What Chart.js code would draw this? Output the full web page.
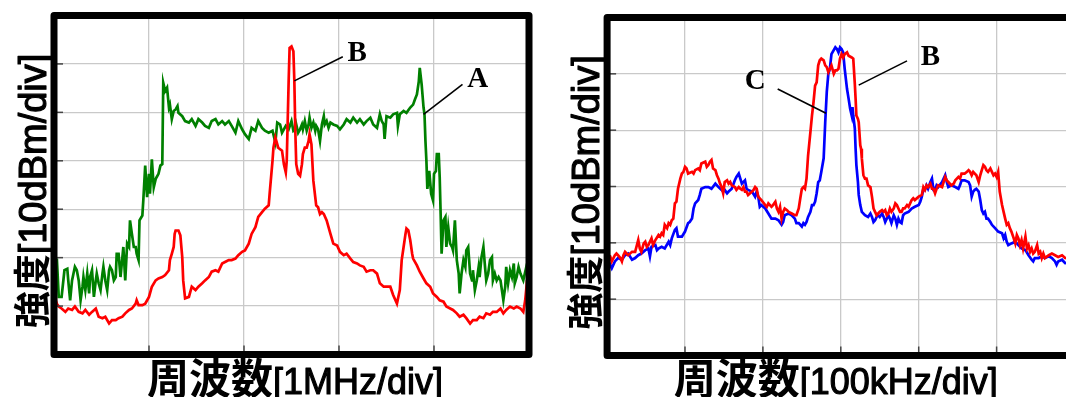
<!DOCTYPE html>
<html>
<head>
<meta charset="utf-8">
<script src="https://cdn.jsdelivr.net/npm/chart.js@4.4.1/dist/chart.umd.min.js"></script>
<style>
  html, body { margin: 0; padding: 0; background: #fff; width: 1066px; height: 397px; overflow: hidden; }
  #wideWrap { position: absolute; left: 0; top: 0; }
  #narrowWrap { position: absolute; left: 540px; top: 0; }
</style>
</head>
<body>
<div id="wideWrap"><canvas id="wide" width="540" height="397"></canvas></div>
<div id="narrowWrap"><canvas id="narrow" width="580" height="397"></canvas></div>
<script>
// left panel: 1 MHz/div, 10 dB/div (x in divisions, y in dB)
const freqA = [
  0.01,0.03,0.05,0.08,0.11,0.14,0.15,0.17,0.19,0.22,
  0.24,0.26,0.28,0.30,0.31,0.33,0.35,0.37,0.38,0.40,
  0.42,0.44,0.45,0.47,0.49,0.51,0.52,0.54,0.56,0.58,
  0.59,0.61,0.63,0.65,0.66,0.68,0.70,0.72,0.73,0.75,
  0.77,0.79,0.80,0.82,0.84,0.86,0.87,0.89,0.90,0.93,
  0.94,0.96,0.98,1.00,1.01,1.03,1.05,1.07,1.08,1.10,
  1.12,1.14,1.15,1.17,1.19,1.21,1.22,1.24,1.26,1.28,
  1.30,1.31,1.35,1.38,1.42,1.45,1.49,1.52,1.56,1.59,
  1.63,1.66,1.70,1.73,1.77,1.80,1.84,1.87,1.91,1.94,
  1.98,2.01,2.05,2.08,2.12,2.15,2.19,2.22,2.26,2.30,
  2.33,2.35,2.38,2.40,2.44,2.47,2.50,2.52,2.54,2.55,
  2.57,2.59,2.61,2.62,2.64,2.66,2.68,2.69,2.71,2.73,
  2.75,2.76,2.78,2.80,2.82,2.84,2.85,2.87,2.89,2.91,
  2.94,2.98,3.01,3.05,3.08,3.12,3.15,3.19,3.22,3.26,
  3.29,3.33,3.36,3.40,3.43,3.45,3.47,3.48,3.50,3.54,
  3.57,3.61,3.62,3.64,3.68,3.71,3.75,3.78,3.80,3.82,
  3.84,3.85,3.87,3.89,3.90,3.91,3.92,3.93,3.95,3.97,
  3.99,4.00,4.02,4.03,4.05,4.06,4.07,4.08,4.10,4.12,
  4.13,4.15,4.17,4.19,4.20,4.22,4.24,4.26,4.27,4.29,
  4.31,4.33,4.34,4.36,4.38,4.40,4.41,4.43,4.45,4.47,
  4.48,4.50,4.52,4.54,4.55,4.57,4.59,4.61,4.62,4.64,
  4.66,4.68,4.70,4.73,4.75,4.76,4.78,4.80,4.82,4.84,
  4.85,4.87,4.89,4.91,4.94,4.98
];
const levelA = [
  -54.0,-50.2,-58.1,-58.1,-52.6,-52.3,-54.7,-58.8,-54.7,-51.9,
  -52.6,-54.7,-58.8,-56.0,-54.0,-56.7,-53.3,-57.4,-54.0,-52.6,
  -58.1,-54.7,-53.3,-55.3,-56.7,-53.3,-51.9,-54.7,-56.7,-52.6,
  -51.9,-52.6,-54.7,-54.0,-49.2,-49.2,-54.0,-49.9,-47.8,-54.7,
  -47.1,-47.8,-42.3,-45.1,-47.8,-47.8,-49.2,-50.5,-42.3,-41.3,
  -38.2,-31.0,-37.5,-32.7,-36.8,-29.7,-35.5,-33.8,-33.4,-32.7,
  -31.0,-30.7,-13.9,-15.6,-14.9,-19.0,-18.4,-21.4,-19.7,-19.4,
  -18.7,-20.1,-20.8,-21.8,-22.1,-21.4,-22.8,-21.4,-22.1,-22.8,
  -23.2,-21.8,-21.4,-22.5,-21.8,-22.5,-21.8,-22.8,-24.2,-21.8,
  -23.5,-24.5,-25.5,-23.2,-23.8,-21.8,-23.2,-23.8,-24.2,-23.8,
  -26.2,-22.1,-22.5,-24.2,-22.8,-23.5,-21.8,-23.8,-23.5,-22.5,
  -24.2,-23.5,-22.5,-23.5,-21.8,-23.8,-22.5,-21.1,-23.2,-22.1,
  -23.8,-22.8,-23.5,-25.9,-22.5,-20.8,-22.5,-21.8,-23.2,-22.1,
  -22.5,-22.8,-23.5,-22.5,-21.4,-22.1,-21.1,-22.1,-21.4,-22.5,
  -21.8,-21.1,-22.5,-23.2,-20.4,-21.8,-22.5,-25.5,-20.8,-21.1,
  -20.4,-20.1,-22.8,-20.4,-19.7,-20.1,-19.0,-18.4,-17.3,-16.3,
  -13.6,-10.8,-14.2,-19.0,-20.4,-25.9,-30.0,-35.8,-32.1,-36.8,
  -38.2,-32.7,-32.1,-28.6,-28.6,-33.4,-41.0,-49.2,-42.3,-41.6,
  -47.8,-43.7,-47.1,-47.8,-48.5,-42.3,-50.5,-53.3,-57.4,-53.3,
  -50.5,-51.9,-48.5,-47.8,-53.3,-54.7,-52.6,-56.7,-54.7,-51.9,
  -54.0,-49.9,-47.8,-52.6,-54.7,-53.3,-50.5,-49.9,-54.7,-53.3,
  -54.7,-54.0,-54.7,-58.8,-56.0,-51.9,-55.3,-52.6,-54.0,-51.2,
  -55.3,-54.0,-51.9,-53.3,-54.7,-51.2
];
const freqB = [
  0.01,0.02,0.03,0.05,0.08,0.12,0.15,0.19,0.22,0.26,
  0.30,0.33,0.37,0.40,0.44,0.47,0.51,0.54,0.58,0.61,
  0.65,0.68,0.72,0.75,0.79,0.82,0.86,0.87,0.89,0.93,
  0.96,1.00,1.03,1.07,1.10,1.14,1.17,1.21,1.22,1.24,
  1.26,1.27,1.28,1.31,1.33,1.35,1.36,1.38,1.42,1.45,
  1.49,1.52,1.56,1.59,1.63,1.66,1.70,1.73,1.77,1.80,
  1.84,1.87,1.91,1.94,1.98,2.01,2.05,2.08,2.12,2.15,
  2.19,2.22,2.26,2.27,2.30,2.31,2.33,2.36,2.40,2.42,
  2.44,2.45,2.47,2.48,2.50,2.52,2.53,2.54,2.55,2.57,
  2.59,2.61,2.62,2.64,2.66,2.68,2.69,2.71,2.73,2.75,
  2.76,2.78,2.80,2.82,2.84,2.87,2.91,2.94,2.98,3.01,
  3.05,3.08,3.12,3.15,3.19,3.22,3.26,3.29,3.33,3.36,
  3.40,3.43,3.47,3.50,3.54,3.57,3.61,3.64,3.66,3.68,
  3.70,3.71,3.73,3.75,3.77,3.78,3.82,3.85,3.89,3.92,
  3.96,3.99,4.03,4.06,4.10,4.13,4.17,4.20,4.24,4.27,
  4.31,4.34,4.38,4.41,4.45,4.48,4.52,4.55,4.59,4.62,
  4.66,4.70,4.73,4.76,4.80,4.84,4.87,4.91,4.94,4.96,
  4.98
];
const levelB = [
  -54.7,-58.8,-59.5,-60.1,-60.5,-61.2,-60.5,-60.8,-60.1,-61.2,
  -61.5,-60.8,-61.8,-61.2,-60.5,-62.2,-62.5,-62.2,-63.6,-62.9,
  -62.9,-62.5,-62.2,-61.5,-60.8,-60.5,-59.5,-58.8,-59.8,-59.8,
  -59.5,-58.1,-56.0,-54.7,-54.3,-54.0,-53.6,-52.6,-50.5,-49.2,
  -47.8,-45.1,-44.4,-44.4,-45.4,-49.9,-54.7,-58.4,-58.1,-56.0,
  -56.7,-56.0,-55.3,-54.7,-54.0,-52.9,-52.6,-52.9,-51.2,-50.9,
  -50.5,-50.5,-50.2,-49.5,-48.8,-48.5,-47.1,-45.1,-43.7,-41.6,
  -40.6,-39.9,-39.2,-36.8,-30.0,-27.3,-25.2,-27.3,-27.9,-30.7,
  -32.4,-30.0,-13.6,-6.7,-6.4,-7.4,-13.6,-23.8,-30.7,-32.7,
  -33.1,-30.7,-28.6,-27.3,-27.3,-25.9,-24.5,-26.6,-34.1,-37.5,
  -39.2,-39.6,-41.0,-40.6,-41.0,-42.3,-45.1,-47.1,-47.5,-48.8,
  -49.5,-49.2,-50.2,-50.9,-51.2,-51.6,-51.9,-52.9,-52.6,-52.6,
  -53.3,-55.3,-56.0,-56.0,-56.0,-57.7,-59.5,-56.7,-50.5,-47.8,
  -45.1,-44.0,-44.4,-46.4,-49.2,-50.2,-51.6,-52.9,-54.3,-55.3,
  -56.0,-57.4,-58.1,-58.8,-59.1,-60.1,-60.5,-60.8,-61.5,-62.2,
  -61.8,-62.5,-63.6,-62.9,-62.9,-62.2,-62.5,-61.5,-61.8,-61.2,
  -61.2,-60.5,-61.5,-60.8,-60.1,-60.5,-60.1,-60.5,-61.2,-58.8,
  -54.7
];

// right panel: 100 kHz/div, 10 dB/div
const freqC = [
  0.02,0.06,0.10,0.14,0.19,0.23,0.27,0.32,0.36,0.40,
  0.44,0.49,0.53,0.55,0.57,0.62,0.64,0.66,0.70,0.74,
  0.79,0.81,0.83,0.87,0.89,0.91,0.96,1.00,1.04,1.06,
  1.09,1.11,1.13,1.17,1.19,1.21,1.26,1.30,1.34,1.39,
  1.43,1.47,1.49,1.51,1.54,1.56,1.60,1.64,1.66,1.69,
  1.71,1.73,1.77,1.79,1.81,1.86,1.90,1.92,1.94,1.96,
  1.98,2.03,2.07,2.11,2.16,2.20,2.24,2.26,2.28,2.33,
  2.37,2.41,2.43,2.46,2.50,2.52,2.54,2.56,2.58,2.61,
  2.63,2.65,2.67,2.69,2.71,2.73,2.75,2.78,2.80,2.82,
  2.84,2.86,2.88,2.93,2.95,2.97,2.99,3.01,3.03,3.05,
  3.08,3.10,3.12,3.14,3.15,3.16,3.18,3.19,3.20,3.22,
  3.23,3.25,3.27,3.31,3.35,3.38,3.40,3.42,3.44,3.46,
  3.48,3.50,3.53,3.55,3.57,3.59,3.61,3.63,3.65,3.68,
  3.70,3.72,3.74,3.76,3.78,3.80,3.82,3.87,3.91,3.95,
  4.00,4.02,4.04,4.06,4.08,4.10,4.12,4.15,4.17,4.19,
  4.21,4.23,4.25,4.30,4.34,4.36,4.38,4.42,4.47,4.51,
  4.53,4.55,4.59,4.64,4.66,4.68,4.70,4.72,4.74,4.77,
  4.79,4.81,4.83,4.85,4.87,4.89,4.92,4.94,4.98,5.02,
  5.07,5.09,5.11,5.13,5.15,5.19,5.24,5.28,5.32,5.37,
  5.41,5.45,5.47,5.49,5.54,5.58,5.62,5.67,5.71,5.75,
  5.77,5.79,5.84,5.88,5.95
];
const levelC = [
  -43.3,-44.5,-43.3,-42.7,-43.0,-42.2,-41.9,-43.0,-42.7,-42.2,
  -41.9,-41.3,-41.0,-42.4,-40.7,-40.4,-41.3,-41.0,-40.7,-41.0,
  -39.8,-40.4,-39.2,-37.7,-37.4,-38.9,-38.9,-38.0,-36.5,-36.3,
  -35.7,-33.9,-33.0,-32.4,-31.5,-30.4,-30.1,-30.1,-30.4,-29.5,
  -30.1,-30.6,-30.9,-30.6,-31.2,-30.9,-30.4,-28.9,-28.3,-27.7,
  -28.6,-29.5,-28.9,-30.4,-30.6,-30.9,-31.8,-30.9,-31.8,-33.6,
  -33.3,-33.9,-34.8,-35.7,-35.7,-36.0,-36.8,-36.3,-35.1,-34.8,
  -35.1,-35.7,-36.5,-36.5,-37.1,-36.5,-36.8,-36.3,-35.4,-34.5,
  -33.3,-33.3,-32.7,-31.2,-29.2,-28.9,-27.4,-25.0,-18.6,-13.2,
  -10.0,-9.1,-6.5,-5.3,-5.6,-6.2,-5.3,-5.6,-6.2,-9.1,
  -12.7,-14.4,-16.2,-17.4,-15.9,-17.4,-19.7,-23.3,-26.2,-29.2,
  -31.5,-33.3,-34.5,-35.1,-35.4,-34.8,-35.4,-36.3,-36.0,-35.4,
  -35.1,-35.4,-34.8,-35.4,-36.3,-35.7,-35.1,-35.7,-36.5,-35.1,
  -35.7,-36.8,-35.7,-36.3,-36.5,-35.1,-34.8,-34.5,-33.9,-33.6,
  -33.3,-32.7,-31.8,-30.4,-30.6,-29.8,-30.4,-29.2,-28.6,-30.6,
  -30.6,-29.8,-30.1,-29.2,-28.0,-29.2,-30.1,-29.8,-30.1,-30.4,
  -29.8,-28.9,-28.9,-29.2,-29.8,-31.8,-30.9,-30.6,-30.4,-30.9,
  -32.4,-34.2,-34.8,-34.5,-35.7,-35.7,-36.3,-36.8,-37.4,-38.0,
  -38.3,-39.2,-38.6,-39.8,-40.4,-40.1,-39.8,-40.4,-41.0,-41.3,
  -42.2,-43.0,-43.3,-42.7,-42.7,-42.4,-42.7,-42.4,-42.7,-43.3,
  -43.9,-43.3,-43.0,-43.6,-43.5
];
const freqD = [
  0.02,0.04,0.06,0.10,0.12,0.14,0.17,0.19,0.21,0.23,
  0.25,0.27,0.32,0.36,0.40,0.42,0.44,0.47,0.49,0.51,
  0.53,0.57,0.59,0.62,0.66,0.68,0.70,0.72,0.74,0.77,
  0.79,0.81,0.83,0.85,0.87,0.89,0.91,0.94,0.96,0.98,
  1.00,1.02,1.04,1.09,1.11,1.13,1.17,1.19,1.21,1.26,
  1.28,1.30,1.32,1.34,1.36,1.39,1.41,1.43,1.45,1.47,
  1.49,1.51,1.54,1.56,1.58,1.60,1.64,1.66,1.69,1.71,
  1.73,1.75,1.77,1.79,1.81,1.86,1.88,1.90,1.92,1.94,
  1.96,1.98,2.03,2.05,2.07,2.11,2.13,2.16,2.18,2.20,
  2.22,2.24,2.26,2.28,2.31,2.33,2.37,2.41,2.43,2.46,
  2.48,2.50,2.52,2.54,2.56,2.58,2.61,2.63,2.65,2.67,
  2.69,2.71,2.73,2.75,2.78,2.80,2.82,2.84,2.86,2.88,
  2.91,2.93,2.95,2.97,2.99,3.01,3.03,3.05,3.08,3.10,
  3.14,3.16,3.18,3.19,3.20,3.22,3.23,3.25,3.26,3.27,
  3.29,3.31,3.33,3.35,3.38,3.40,3.42,3.44,3.46,3.48,
  3.50,3.53,3.55,3.57,3.59,3.61,3.63,3.65,3.68,3.70,
  3.72,3.74,3.76,3.78,3.80,3.82,3.85,3.87,3.91,3.93,
  3.95,4.00,4.04,4.06,4.08,4.10,4.12,4.15,4.17,4.19,
  4.21,4.23,4.25,4.30,4.32,4.34,4.36,4.38,4.42,4.45,
  4.47,4.51,4.53,4.55,4.59,4.62,4.64,4.66,4.68,4.70,
  4.72,4.74,4.77,4.79,4.81,4.83,4.85,4.87,4.89,4.92,
  4.94,4.96,4.98,5.00,5.02,5.04,5.07,5.09,5.11,5.13,
  5.15,5.17,5.19,5.22,5.24,5.26,5.28,5.30,5.32,5.34,
  5.37,5.39,5.41,5.43,5.45,5.47,5.49,5.52,5.54,5.56,
  5.58,5.60,5.62,5.67,5.71,5.75,5.79,5.84,5.88,5.95
];
const levelD = [
  -42.2,-42.4,-43.3,-42.2,-41.9,-42.2,-42.7,-43.3,-42.2,-41.6,
  -41.9,-42.2,-41.6,-41.6,-39.5,-41.0,-41.6,-40.1,-39.8,-40.7,
  -40.4,-39.2,-40.4,-39.5,-38.6,-38.9,-38.3,-38.6,-36.8,-37.4,
  -36.5,-36.8,-36.0,-35.7,-33.0,-32.7,-30.4,-28.6,-27.7,-27.4,
  -26.5,-26.8,-27.7,-27.4,-27.7,-27.1,-26.8,-27.1,-25.9,-25.6,
  -26.5,-26.2,-25.6,-25.3,-26.8,-27.1,-28.0,-28.6,-29.5,-30.1,
  -31.2,-29.2,-28.9,-29.5,-29.2,-29.8,-30.1,-30.6,-30.1,-30.4,
  -30.6,-30.1,-30.9,-30.9,-31.5,-30.9,-30.6,-30.1,-30.4,-31.8,
  -32.1,-32.4,-33.3,-33.6,-33.0,-33.6,-33.3,-32.7,-33.9,-34.5,
  -33.6,-35.7,-34.5,-33.9,-34.2,-34.5,-34.8,-35.1,-35.1,-33.9,
  -32.1,-30.4,-30.1,-30.4,-28.6,-24.5,-20.3,-17.4,-15.0,-12.1,
  -11.5,-8.5,-7.6,-7.3,-7.6,-8.5,-8.8,-9.7,-9.1,-8.5,
  -10.0,-9.4,-9.4,-9.1,-7.3,-6.5,-7.1,-6.5,-6.2,-6.8,
  -7.1,-7.3,-11.8,-14.4,-17.4,-18.0,-18.6,-22.7,-23.3,-25.0,
  -28.0,-28.6,-28.6,-29.8,-30.1,-31.8,-33.9,-34.5,-35.1,-34.8,
  -34.5,-34.2,-34.5,-34.2,-35.1,-34.8,-33.9,-34.5,-33.9,-33.0,
  -33.3,-33.9,-34.5,-34.5,-33.9,-33.9,-33.3,-33.6,-32.4,-32.1,
  -32.4,-31.8,-31.5,-30.1,-30.6,-29.8,-30.1,-29.5,-30.4,-30.4,
  -31.2,-30.4,-29.8,-30.1,-29.2,-28.3,-28.9,-29.2,-29.8,-29.5,
  -28.9,-28.3,-28.6,-27.7,-27.7,-27.4,-27.1,-27.4,-28.0,-27.4,
  -27.7,-28.0,-29.2,-28.0,-27.1,-26.2,-26.5,-27.1,-27.4,-26.8,
  -27.4,-28.0,-27.7,-28.3,-27.4,-30.9,-33.3,-34.5,-35.7,-36.8,
  -36.5,-37.4,-38.0,-39.2,-40.1,-38.6,-39.2,-40.4,-39.5,-41.0,
  -38.9,-41.0,-40.4,-41.6,-41.0,-41.9,-41.6,-40.4,-41.9,-41.6,
  -42.7,-41.9,-42.7,-42.2,-41.9,-42.2,-42.5,-42.2,-42.7,-42.8
];

const toPoints = (xs, ys) => xs.map((x, i) => ({ x, y: ys[i] }));

// frame, inner tick marks, A/B/C call-outs and axis titles
const framePlugin = {
  id: 'frame',
  afterDatasetsDraw(chart, args, opts) {
    const { ctx, chartArea: a, scales: { x, y } } = chart;
    ctx.save();
    ctx.strokeStyle = '#444';
    ctx.lineWidth = 1.5;
    y.ticks.forEach(t => {
      const py = y.getPixelForValue(t.value);
      ctx.beginPath(); ctx.moveTo(a.left, py); ctx.lineTo(a.left + 9, py); ctx.stroke();
    });
    x.ticks.forEach(t => {
      const px = x.getPixelForValue(t.value);
      ctx.beginPath(); ctx.moveTo(px, a.bottom); ctx.lineTo(px, a.bottom - 9); ctx.stroke();
    });

    ctx.strokeStyle = '#000';
    ctx.lineWidth = 7;
    ctx.lineJoin = 'round';
    ctx.strokeRect(a.left, a.top, a.right - a.left, a.bottom - a.top);

    ctx.lineWidth = 1.6;
    ctx.fillStyle = '#000';
    ctx.font = 'bold 29px "Liberation Serif"';
    ctx.textAlign = 'center';
    ctx.textBaseline = 'middle';
    opts.notes.forEach(n => {
      ctx.beginPath();
      ctx.moveTo(x.getPixelForValue(n.from[0]), y.getPixelForValue(n.from[1]));
      ctx.lineTo(x.getPixelForValue(n.to[0]), y.getPixelForValue(n.to[1]));
      ctx.stroke();
      ctx.fillText(n.text, x.getPixelForValue(n.x), y.getPixelForValue(n.y) + 1);
    });

    // titles: bold kanji followed by a medium-weight latin unit
    const runs = (parts, cx, base, rotate) => {
      ctx.save();
      ctx.textAlign = 'left';
      ctx.textBaseline = 'alphabetic';
      ctx.strokeStyle = '#000';
      ctx.lineJoin = 'round';
      let total = 0;
      parts.forEach(p => { ctx.font = p.font; total += ctx.measureText(p.text).width; });
      ctx.translate(rotate ? base : cx, rotate ? cx : base);
      if (rotate) ctx.rotate(-Math.PI / 2);
      let pos = -total / 2;
      parts.forEach(p => {
        ctx.font = p.font;
        ctx.fillText(p.text, pos, 0);
        if (p.stroke) { ctx.lineWidth = p.stroke; ctx.strokeText(p.text, pos, 0); }
        pos += ctx.measureText(p.text).width;
      });
      ctx.restore();
    };
    runs([{ text: opts.xTitle, font: 'bold 42px "Noto Sans CJK JP"' },
          { text: opts.xUnit, font: '36px "Liberation Sans"', stroke: 1.1 }],
         (a.left + a.right) / 2 + opts.xShift, 394, false);
    runs([{ text: opts.yTitle, font: 'bold 37px "Noto Sans CJK JP"' },
          { text: opts.yUnit, font: '38px "Liberation Sans"', stroke: 1.1 }],
         (a.top + a.bottom) / 2 + 6, a.left - 8.5, true);
    ctx.restore();
  }
};

function spectrumChart(id, traces, xMax, yMin, padding, frame) {
  return new Chart(document.getElementById(id), {
    type: 'line',
    data: {
      datasets: traces.map(t => ({
        data: toPoints(t.xs, t.ys),
        borderColor: t.color,
        borderWidth: 2.7,
        pointRadius: 0,
        tension: 0,
        fill: false
      }))
    },
    options: {
      responsive: false,
      animation: false,
      layout: { padding },
      plugins: { legend: { display: false }, tooltip: { enabled: false }, frame },
      scales: {
        x: {
          type: 'linear', min: 0, max: xMax,
          ticks: { display: false, stepSize: 1 },
          grid: { color: '#c9c9c9', lineWidth: 1.3, drawTicks: false },
          border: { display: false }
        },
        y: {
          type: 'linear', min: yMin, max: 0,
          ticks: { display: false, stepSize: 10 },
          grid: { color: '#c9c9c9', lineWidth: 1.3, drawTicks: false },
          border: { display: false }
        }
      }
    },
    plugins: [framePlugin]
  });
}

spectrumChart('wide', [
  { xs: freqB, ys: levelB, color: '#ff0000' },
  { xs: freqA, ys: levelA, color: '#008000' }
], 5, -70, { left: 54, right: 11, top: 15.5, bottom: 42.5 }, {
  xTitle: '周波数', xUnit: '[1MHz/div]', yTitle: '強度', yUnit: '[10dBm/div]', xShift: 3.5,
  notes: [
    { text: 'B', x: 3.19, y: -7.6, from: [2.53, -13.5], to: [3.04, -8.5] },
    { text: 'A', x: 4.46, y: -13.0, from: [3.89, -20.4], to: [4.30, -14.2] }
  ]
});

spectrumChart('narrow', [
  { xs: freqD, ys: levelD, color: '#ff0000' },
  { xs: freqC, ys: levelC, color: '#0000ff' }
], 6, -60, { left: 67.1, right: 45.5, top: 17.5, bottom: 41.5 }, {
  xTitle: '周波数', xUnit: '[100kHz/div]', yTitle: '強度', yUnit: '[10dBm/div]', xShift: -5,
  notes: [
    { text: 'C', x: 1.90, y: -11.2, from: [2.19, -12.7], to: [2.81, -17.0] },
    { text: 'B', x: 4.15, y: -6.9, from: [3.23, -12.0], to: [3.85, -7.7] }
  ]
});
</script>
</body>
</html>
